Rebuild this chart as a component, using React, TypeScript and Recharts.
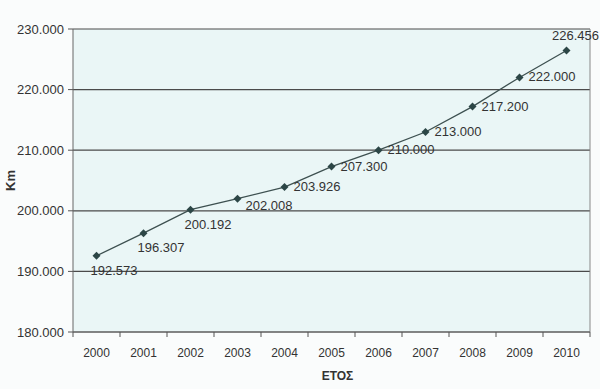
import { LineChart, Line, XAxis, YAxis, CartesianGrid, ReferenceLine } from 'recharts';

// years on the x axis and km per year
const years = ['2000', '2001', '2002', '2003', '2004', '2005', '2006', '2007', '2008', '2009', '2010'];
const km = [192573, 196307, 200192, 202008, 203926, 207300, 210000, 213000, 217200, 222000, 226456];
const yTicks = [180000, 190000, 200000, 210000, 220000, 230000];

const data = years.map((year, i) => ({ i, year, km: km[i] }));
const centerTicks = years.map((_, i) => i);

const fmt = (n: number) => String(n).replace(/\B(?=(\d{3})+(?!\d))/g, '.');

const txt = '#333';
const font = '"Liberation Sans", Arial, sans-serif';
const X_MARGIN = 16;

const Diamond = (props: any) => {
  const { cx, cy, index } = props;
  if (cx == null || cy == null) return null;
  const s = 4;
  return (
    <polygon
      key={`d${index}`}
      points={`${cx},${cy - s} ${cx + s},${cy} ${cx},${cy + s} ${cx - s},${cy}`}
      fill="#2c4646"
    />
  );
};

// year label in the middle of its slot, tick marks on the slot edges (excel style)
const YearTick = (props: any) => {
  const { x, y, payload, index, width } = props;
  const half = (Number(width) || 517) / years.length / 2;
  const ay = y - X_MARGIN;
  const last = index === years.length - 1;
  return (
    <g>
      <line x1={x - half} x2={x - half} y1={ay} y2={ay + 5} stroke="#555" />
      {last && <line x1={x + half} x2={x + half} y1={ay} y2={ay + 5} stroke="#555" />}
      <text x={x} y={y} dy="0.71em" textAnchor="middle" fill={txt} fontSize={12} fontFamily={font}>
        {years[payload.value]}
      </text>
    </g>
  );
};

// where the value sits around each point, like in the original excel chart
const ValueLabel = (props: any) => {
  const { x, y, value, index } = props;
  let tx = x + 9;
  let ty = y + 4;
  let anchor = 'start';
  if (index <= 2) {
    tx = x - 6;
    ty = y + 19;
  } else if (index === 3) {
    tx = x + 8;
    ty = y + 11;
  } else if (index === km.length - 1) {
    tx = x + 9;
    ty = y - 10;
    anchor = 'middle';
  }
  return (
    <text x={tx} y={ty} fill={txt} fontSize={13} fontFamily={font} textAnchor={anchor}>
      {fmt(value)}
    </text>
  );
};

export default function App() {
  return (
    <div style={{ position: 'absolute', left: 0, top: 0, width: 600, height: 389, background: '#fafcfc' }}>
      <LineChart width={600} height={389} data={data} margin={{ top: 29, right: 10, bottom: 17, left: 0 }}>
        <CartesianGrid vertical={false} stroke="#4a4a4a" strokeWidth={1.2} fill="#eaf6f6" />
        <XAxis
          type="number"
          dataKey="i"
          domain={[-0.5, 10.5]}
          ticks={centerTicks}
          tickLine={false}
          tickSize={0}
          tickMargin={X_MARGIN}
          axisLine={{ stroke: '#666' }}
          height={40}
          tick={YearTick}
          label={{ value: 'ΕΤΟΣ', position: 'insideBottom', offset: -8, dx: 6, fill: txt, fontSize: 12, fontWeight: 'bold', fontFamily: font }}
        />
        <YAxis
          type="number"
          domain={[180000, 230000]}
          ticks={yTicks}
          tickFormatter={fmt}
          width={73}
          tickSize={5}
          tickMargin={4}
          tickLine={{ stroke: '#555' }}
          axisLine={{ stroke: '#666' }}
          tick={{ fill: txt, fontSize: 13, fontFamily: font }}
          label={{ value: 'Km', angle: -90, position: 'insideLeft', offset: 10, fill: txt, fontSize: 13, fontWeight: 'bold', fontFamily: font, style: { textAnchor: 'middle' } }}
        />
        <ReferenceLine x={10.5} stroke="#888" />
        <Line
          type="linear"
          dataKey="km"
          stroke="#3d5050"
          strokeWidth={1.3}
          dot={Diamond}
          activeDot={false}
          label={ValueLabel}
          isAnimationActive={false}
        />
      </LineChart>
    </div>
  );
}
